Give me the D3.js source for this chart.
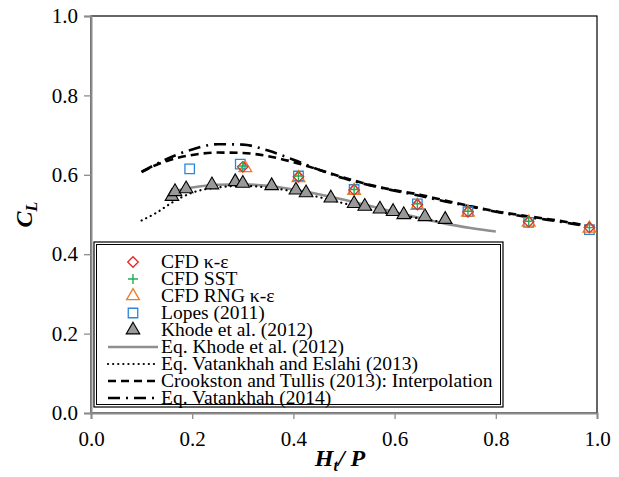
<!DOCTYPE html>
<html>
<head>
<meta charset="utf-8">
<script src="https://cdn.jsdelivr.net/npm/d3@7"></script>
<style>
  body { margin: 0; background: #fff; }
</style>
</head>
<body>
<div id="chart"></div>
<script>
// ---- data ----
let xTicks = [0.0, 0.2, 0.4, 0.6, 0.8, 1.0];
let yTicks = [0.0, 0.2, 0.4, 0.6, 0.8, 1.0];

// CFD runs
let cfdKeX = [0.30, 0.41, 0.52, 0.645, 0.745, 0.865, 0.985];
let cfdKeY = [0.620, 0.595, 0.562, 0.525, 0.507, 0.482, 0.467];
let cfdSstY = [0.622, 0.597, 0.563, 0.527, 0.508, 0.483, 0.467];
let cfdRngX = [0.305, 0.41, 0.52, 0.645, 0.745, 0.865, 0.985];
let cfdRngY = [0.617, 0.592, 0.560, 0.522, 0.505, 0.480, 0.465];

// Lopes (2011)
let lopesX = [0.195, 0.295, 0.41, 0.52, 0.645, 0.745, 0.865, 0.985];
let lopesY = [0.615, 0.627, 0.597, 0.563, 0.527, 0.507, 0.480, 0.462];

// Khode et al. (2012) experiments
let khodeX = [0.160, 0.166, 0.188, 0.239, 0.285, 0.300, 0.357, 0.405, 0.425, 0.474, 0.520, 0.541, 0.571, 0.597, 0.618, 0.660, 0.700];
let khodeY = [0.543, 0.555, 0.562, 0.572, 0.580, 0.576, 0.570, 0.559, 0.552, 0.539, 0.525, 0.518, 0.511, 0.505, 0.497, 0.492, 0.485];

// Eq. Khode et al. (2012)
let eqKhodeX = [0.17, 0.20, 0.25, 0.30, 0.35, 0.40, 0.45, 0.50, 0.55, 0.60, 0.65, 0.70, 0.75, 0.80];
let eqKhodeY = [0.560, 0.568, 0.575, 0.576, 0.572, 0.563, 0.551, 0.537, 0.522, 0.506, 0.491, 0.477, 0.466, 0.457];

// Eq. Vatankhah and Eslahi (2013)
let eqVEX = [0.10, 0.13, 0.16, 0.20, 0.25, 0.30, 0.35, 0.40, 0.45, 0.50, 0.55, 0.60, 0.65, 0.70];
let eqVEY = [0.485, 0.505, 0.530, 0.555, 0.568, 0.572, 0.568, 0.558, 0.544, 0.528, 0.513, 0.500, 0.490, 0.480];

// Crookston and Tullis (2013): Interpolation
let ctX = [0.10, 0.15, 0.20, 0.25, 0.30, 0.35, 0.40, 0.45, 0.50, 0.55, 0.60, 0.65, 0.70, 0.75, 0.80, 0.85, 0.90, 0.95, 0.98];
let ctY = [0.608, 0.635, 0.650, 0.656, 0.655, 0.647, 0.632, 0.613, 0.593, 0.575, 0.561, 0.550, 0.535, 0.521, 0.508, 0.498, 0.489, 0.479, 0.472];

// Eq. Vatankhah (2014)
let vX = [0.10, 0.15, 0.20, 0.25, 0.30, 0.35, 0.40, 0.45, 0.50, 0.55, 0.60, 0.65, 0.70, 0.75, 0.80, 0.85, 0.90, 0.95, 0.99];
let vY = [0.607, 0.640, 0.664, 0.677, 0.676, 0.661, 0.638, 0.613, 0.591, 0.574, 0.560, 0.547, 0.533, 0.520, 0.507, 0.496, 0.487, 0.477, 0.468];

let legendLabels = ["CFD \u03ba-\u03b5", "CFD SST", "CFD RNG \u03ba-\u03b5", "Lopes (2011)", "Khode et al. (2012)",
    "Eq. Khode et al. (2012)", "Eq. Vatankhah and Eslahi (2013)", "Crookston and Tullis (2013): Interpolation",
    "Eq. Vatankhah (2014)"];

function zip(xs, ys) { return xs.map((x, i) => ({x: x, y: ys[i]})); }

let FONT = "Liberation Serif";

// ---- layout ----
let W = 619, H = 477;
let margin = {top: 16, right: 22, bottom: 64, left: 91};
let width = W - margin.left - margin.right;
let height = H - margin.top - margin.bottom;

let svg = d3.select("#chart").append("svg")
    .attr("width", W)
    .attr("height", H);

let g = svg.append("g")
    .attr("transform", "translate(" + margin.left + "," + margin.top + ")");

let x = d3.scaleLinear().domain([0, 1]).range([0, width]);
let y = d3.scaleLinear().domain([0, 1]).range([height, 0]);

// plot frame (top/right black)
g.append("rect")
    .attr("width", width)
    .attr("height", height)
    .attr("fill", "none")
    .attr("stroke", "#000")
    .attr("stroke-width", 1.2);

// axes
let xAxis = g.append("g")
    .attr("transform", "translate(0," + height + ")")
    .call(d3.axisBottom(x).tickValues(xTicks).tickFormat(d3.format(".1f")).tickSizeOuter(0).tickSize(6).tickPadding(12));
let yAxis = g.append("g")
    .call(d3.axisLeft(y).tickValues(yTicks).tickFormat(d3.format(".1f")).tickSizeOuter(0).tickSize(7).tickPadding(6));

[xAxis, yAxis].forEach(function (a) {
    a.select(".domain").attr("stroke", "#8c8c8c").attr("stroke-width", 2);
    a.selectAll(".tick line").attr("stroke", "#8c8c8c").attr("stroke-width", 1.3);
    a.selectAll(".tick text")
        .style("font-family", FONT)
        .style("font-size", "21px")
        .attr("fill", "#000");
});

// axis titles
let xt = svg.append("text")
    .attr("x", margin.left + x(0.5) - 4)
    .attr("y", 466)
    .attr("text-anchor", "middle")
    .style("font-family", FONT)
    .style("font-size", "24px")
    .style("font-weight", "bold")
    .style("font-style", "italic");
xt.append("tspan").text("H");
xt.append("tspan").attr("dy", 5).style("font-size", "16px").text("t");
xt.append("tspan").attr("dy", -5).text("/ P");

let yt = svg.append("text")
    .attr("transform", "translate(32," + (margin.top + y(0.5)) + ") rotate(-90)")
    .attr("text-anchor", "middle")
    .style("font-family", FONT)
    .style("font-size", "24px")
    .style("font-weight", "bold")
    .style("font-style", "italic");
yt.append("tspan").text("C");
yt.append("tspan").attr("dy", 5).style("font-size", "16px").text("L");

// ---- lines ----
let line = d3.line().x(d => x(d.x)).y(d => y(d.y)).curve(d3.curveMonotoneX);

g.append("path").datum(zip(eqKhodeX, eqKhodeY))
    .attr("d", line).attr("fill", "none")
    .attr("stroke", "#8f8f8f").attr("stroke-width", 2.6);

g.append("path").datum(zip(eqVEX, eqVEY))
    .attr("d", line).attr("fill", "none")
    .attr("stroke", "#000").attr("stroke-width", 2.2)
    .attr("stroke-linecap", "round")
    .attr("stroke-dasharray", "0.1,5");

g.append("path").datum(zip(ctX, ctY))
    .attr("d", line).attr("fill", "none")
    .attr("stroke", "#000").attr("stroke-width", 2.6)
    .attr("stroke-dasharray", "8,5");

g.append("path").datum(zip(vX, vY))
    .attr("d", line).attr("fill", "none")
    .attr("stroke", "#000").attr("stroke-width", 2.6)
    .attr("stroke-dasharray", "12,6,2,6");

// ---- markers ----
let sq = d3.symbol().type(d3.symbolSquare);
let tri = d3.symbol().type(d3.symbolTriangle);
let plusPath = "M-5,0H5M0,-5V5";

function drawKhode(sel, px, py) {
    sel.append("path").attr("d", tri.size(80)())
        .attr("transform", "translate(" + px + "," + (py - 1) + ")")
        .attr("fill", "#999").attr("stroke", "#000").attr("stroke-width", 1.1);
}
function drawLopes(sel, px, py) {
    sel.append("path").attr("d", sq.size(90)())
        .attr("transform", "translate(" + px + "," + py + ")")
        .attr("fill", "none").attr("stroke", "#2e86d6").attr("stroke-width", 1.3);
}
function drawRng(sel, px, py) {
    sel.append("path").attr("d", tri.size(70)())
        .attr("transform", "translate(" + px + "," + py + ")")
        .attr("fill", "none").attr("stroke", "#f07a22").attr("stroke-width", 1.3);
}
function drawKe(sel, px, py) {
    sel.append("path").attr("d", sq.size(55)())
        .attr("transform", "translate(" + px + "," + py + ") rotate(45)")
        .attr("fill", "none").attr("stroke", "#e8262a").attr("stroke-width", 1.3);
}
function drawSst(sel, px, py) {
    sel.append("path").attr("d", plusPath)
        .attr("transform", "translate(" + px + "," + py + ")")
        .attr("fill", "none").attr("stroke", "#1fae55").attr("stroke-width", 1.4);
}

let marks = g.append("g");
zip(khodeX, khodeY).forEach(d => drawKhode(marks, x(d.x), y(d.y)));
zip(lopesX, lopesY).forEach(d => drawLopes(marks, x(d.x), y(d.y)));
zip(cfdRngX, cfdRngY).forEach(d => drawRng(marks, x(d.x), y(d.y)));
zip(cfdKeX, cfdKeY).forEach(d => drawKe(marks, x(d.x), y(d.y)));
zip(cfdKeX, cfdSstY).forEach(d => drawSst(marks, x(d.x), y(d.y)));

// ---- legend ----
let lg = svg.append("g");
let lx = 94, ly = 242, lw = 409, lh = 165;
lg.append("rect").attr("x", lx).attr("y", ly).attr("width", lw).attr("height", lh)
    .attr("fill", "#fff").attr("stroke", "#000").attr("stroke-width", 1.2);
lg.append("rect").attr("x", lx + 2.5).attr("y", ly + 2.5).attr("width", lw - 5).attr("height", lh - 5)
    .attr("fill", "none").attr("stroke", "#000").attr("stroke-width", 1);

let rowY = i => ly + 20 + i * 17;
let symX = 133;
drawKe(lg, symX, rowY(0));
drawSst(lg, symX, rowY(1));
drawRng(lg, symX, rowY(2));
drawLopes(lg, symX, rowY(3));
drawKhode(lg, symX, rowY(4) + 1);

let sample = [
    {i: 5, stroke: "#8f8f8f", dash: null, cap: "butt"},
    {i: 6, stroke: "#000", dash: "0.1,5", cap: "round"},
    {i: 7, stroke: "#000", dash: "8,5", cap: "butt"},
    {i: 8, stroke: "#000", dash: "12,6,2,6", cap: "butt"}
];
sample.forEach(function (s) {
    lg.append("line")
        .attr("x1", 108).attr("x2", 158)
        .attr("y1", rowY(s.i)).attr("y2", rowY(s.i))
        .attr("stroke", s.stroke)
        .attr("stroke-width", s.i === 6 ? 2.2 : 2.6)
        .attr("stroke-linecap", s.cap)
        .attr("stroke-dasharray", s.dash);
});

legendLabels.forEach(function (t, i) {
    lg.append("text")
        .attr("x", 161)
        .attr("y", rowY(i) + 6)
        .style("font-family", FONT)
        .style("font-size", "19.5px")
        .text(t);
});
</script>
</body>
</html>
